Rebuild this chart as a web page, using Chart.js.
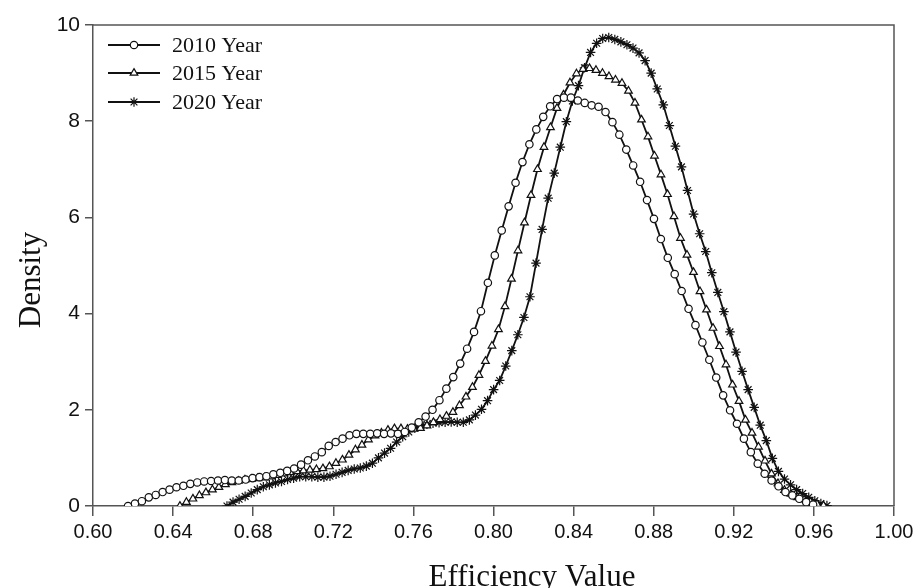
<!DOCTYPE html>
<html>
<head>
<meta charset="utf-8">
<script src="https://cdn.jsdelivr.net/npm/chart.js@4.4.1/dist/chart.umd.min.js"></script>
<style>
html,body{margin:0;padding:0;background:#fff}
#c{display:block}
</style>
</head>
<body>
<canvas id="c" width="919" height="588"></canvas>
<script>
// kernel density curves, 100 evaluation points each
const LABELS=['2010 Year','2015 Year','2020 Year'];
const X_RANGE_2010=[0.6175,0.9596];
const X_RANGE_2015=[0.6434,0.9648];
const X_RANGE_2020=[0.6669,0.9665];
const Y_2010=[0.00,0.05,0.10,0.18,0.23,0.29,0.34,0.39,0.42,0.46,
0.49,0.51,0.52,0.53,0.54,0.53,0.53,0.55,0.58,0.60,
0.62,0.66,0.69,0.73,0.78,0.86,0.95,1.03,1.12,1.25,
1.33,1.40,1.47,1.50,1.50,1.50,1.51,1.50,1.51,1.50,
1.54,1.63,1.74,1.86,2.00,2.20,2.44,2.68,2.96,3.27,
3.62,4.05,4.64,5.21,5.73,6.23,6.72,7.15,7.52,7.83,
8.09,8.31,8.46,8.49,8.49,8.43,8.38,8.33,8.30,8.19,
7.98,7.72,7.41,7.08,6.74,6.36,5.97,5.55,5.16,4.82,
4.47,4.10,3.76,3.40,3.04,2.67,2.30,1.99,1.71,1.40,
1.12,0.88,0.67,0.53,0.41,0.29,0.22,0.15,0.08,0.03];
const Y_2015=[0.00,0.08,0.15,0.22,0.28,0.34,0.39,0.45,0.49,0.52,
0.545,0.56,0.575,0.59,0.61,0.64,0.67,0.70,0.72,0.735,
0.75,0.76,0.78,0.82,0.89,0.96,1.06,1.17,1.27,1.38,
1.46,1.52,1.58,1.61,1.61,1.60,1.60,1.62,1.67,1.74,
1.80,1.87,1.95,2.09,2.27,2.47,2.72,3.01,3.33,3.67,
4.15,4.72,5.31,5.89,6.46,7.00,7.46,7.87,8.27,8.55,
8.80,8.99,9.08,9.10,9.06,9.00,8.93,8.86,8.79,8.63,
8.38,8.03,7.68,7.28,6.89,6.48,6.02,5.57,5.22,4.86,
4.46,4.08,3.70,3.32,2.94,2.52,2.18,1.79,1.52,1.23,
0.94,0.67,0.47,0.33,0.25,0.18,0.13,0.08,0.04,0.01];
const Y_2020=[0.00,0.08,0.14,0.20,0.27,0.34,0.40,0.44,0.48,0.51,
0.55,0.58,0.61,0.61,0.61,0.60,0.60,0.62,0.66,0.70,
0.74,0.77,0.79,0.83,0.89,1.00,1.10,1.20,1.33,1.44,
1.54,1.62,1.67,1.70,1.72,1.73,1.74,1.75,1.74,1.74,
1.79,1.89,2.01,2.19,2.42,2.61,2.91,3.23,3.56,3.92,
4.35,5.05,5.75,6.40,6.92,7.46,7.99,8.42,8.74,9.11,
9.43,9.62,9.72,9.74,9.70,9.65,9.59,9.52,9.42,9.26,
9.00,8.67,8.34,7.91,7.48,7.05,6.56,6.07,5.66,5.29,
4.85,4.44,4.04,3.62,3.20,2.80,2.42,2.05,1.68,1.36,
0.99,0.72,0.56,0.44,0.34,0.26,0.18,0.11,0.05,0.01];
const X_TICKS=[0.60,0.64,0.68,0.72,0.76,0.80,0.84,0.88,0.92,0.96,1.00];
const Y_TICKS=[0,2,4,6,8,10];

const INK='#111';
const SERIF='"Liberation Serif","DejaVu Serif",serif';
const SANS='"Liberation Sans",Arial,sans-serif';

// evenly spaced evaluation grid between the first and last point
function pts(range,ys){
  const step=(range[1]-range[0])/(ys.length-1);
  return ys.map((y,i)=>({x:range[0]+i*step,y}));
}

const STYLES=[
  {pointStyle:'circle',radius:3.7},
  {pointStyle:'triangle',radius:4.4},
  {pointStyle:'star',radius:4.8}
];
const SERIES=[[X_RANGE_2010,Y_2010],[X_RANGE_2015,Y_2015],[X_RANGE_2020,Y_2020]];

const datasets=SERIES.map((s,i)=>({
  label:LABELS[i],
  data:pts(s[0],s[1]),
  borderColor:INK,borderWidth:1.8,
  pointStyle:STYLES[i].pointStyle,
  pointRadius:STYLES[i].radius,
  pointBorderWidth:1.2,
  pointBorderColor:INK,
  pointBackgroundColor:'#fff',
  tension:0,fill:false
}));

// top/right frame, legend and axis titles
const decor={
  id:'decor',
  afterDraw(chart){
    const {ctx,chartArea:a}=chart;
    ctx.save();
    ctx.strokeStyle='#555';ctx.lineWidth=1.5;
    ctx.beginPath();
    ctx.moveTo(a.left,a.top);ctx.lineTo(a.right,a.top);ctx.lineTo(a.right,a.bottom);
    ctx.stroke();
    // legend
    const rows=[45,73,102];
    datasets.forEach((d,i)=>{
      const y=rows[i];
      ctx.strokeStyle=INK;ctx.lineWidth=1.8;
      ctx.beginPath();ctx.moveTo(108,y);ctx.lineTo(160,y);ctx.stroke();
      ctx.fillStyle='#fff';ctx.lineWidth=1.2;
      Chart.helpers.drawPoint(ctx,{pointStyle:d.pointStyle,radius:d.pointRadius,borderWidth:1.2,rotation:0},134,y);
      ctx.fillStyle=INK;ctx.font='22px '+SERIF;ctx.textBaseline='middle';ctx.textAlign='left';
      ctx.fillText(d.label,172,y+1);
    });
    // axis titles
    ctx.font='31px '+SERIF;ctx.fillStyle=INK;ctx.textAlign='center';ctx.textBaseline='alphabetic';
    ctx.fillText('Efficiency Value',532,586);
    ctx.translate(40,280);ctx.rotate(-Math.PI/2);
    ctx.fillText('Density',0,0);
    ctx.restore();
  }
};

new Chart(document.getElementById('c'),{
  type:'line',
  data:{datasets},
  options:{
    responsive:false,animation:false,
    layout:{padding:{top:25,right:25,left:0,bottom:0}},
    plugins:{legend:{display:false},tooltip:{enabled:false}},
    scales:{
      x:{type:'linear',min:0.6,max:1.0,
        afterBuildTicks:s=>{s.ticks=X_TICKS.map(v=>({value:v}))},
        afterFit:s=>{s.height=82},
        grid:{drawOnChartArea:false,drawTicks:true,tickLength:10,color:'#555',lineWidth:1.5},
        border:{display:true,color:'#555',width:1.5},
        ticks:{color:INK,font:{family:SANS,size:20},padding:4,maxRotation:0,autoSkip:false,
          callback:v=>v.toFixed(2)}},
      y:{type:'linear',min:0,max:10,
        afterBuildTicks:s=>{s.ticks=Y_TICKS.map(v=>({value:v}))},
        afterFit:s=>{s.width=93},
        grid:{drawOnChartArea:false,drawTicks:true,tickLength:8,color:'#555',lineWidth:1.5},
        border:{display:true,color:'#555',width:1.5},
        ticks:{color:INK,font:{family:SANS,size:21},padding:5,callback:v=>String(v)}}
    }
  },
  plugins:[decor]
});
</script>
</body>
</html>
